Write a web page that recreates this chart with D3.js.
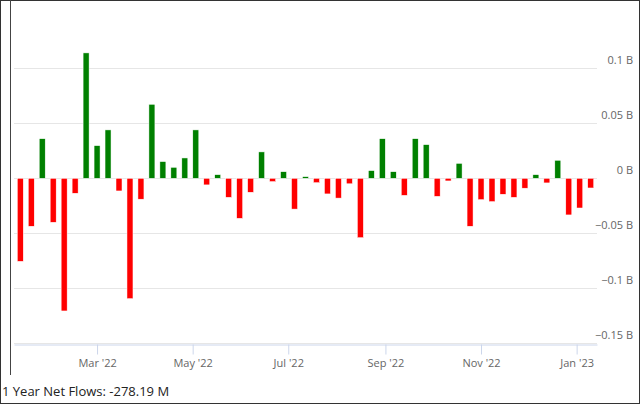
<!DOCTYPE html>
<html><head><meta charset="utf-8">
<script src="https://cdn.jsdelivr.net/npm/d3@7"></script>
<style>body{margin:0;background:#fff}text{font-family:"Open Sans",sans-serif}</style>
</head><body><svg width="640" height="404"></svg>
<script>
// weekly net flows in billions, first week starting Jan 11 2022
var startDate = new Date(2022, 0, 11);
var flows = [-0.0755,-0.0436,0.036,-0.040,-0.1206,-0.0136,0.114,0.0297,0.044,-0.0115,
  -0.1094,-0.019,0.0673,0.0152,0.010,0.0185,0.044,-0.006,0.0033,-0.0173,
  -0.0364,-0.0127,0.024,-0.003,0.006,-0.028,0.0015,-0.004,-0.0142,-0.018,
  -0.005,-0.054,0.007,0.036,0.006,-0.0155,0.036,0.0306,-0.0164,-0.0024,
  0.0136,-0.0436,-0.0194,-0.0212,-0.0145,-0.0173,-0.009,0.0033,-0.0042,0.0164,
  -0.0333,-0.027,-0.0088];
var yTicks = [-0.15,-0.1,-0.05,0,0.05,0.1];
var xTicks = [new Date(2022,2,1),new Date(2022,4,1),new Date(2022,6,1),new Date(2022,8,1),new Date(2022,10,1),new Date(2023,0,1)];
var footerLabel = "1 Year Net Flows:", footerValue = " -278.19 M";

var svg = d3.select("svg");
var data = flows.map(function(v, i) { return {date: d3.timeDay.offset(startDate, 7 * i), value: v}; });

var x = d3.scaleTime().domain([new Date(2022,0,7), new Date(2023,0,14)]).range([14, 597]);
var y = d3.scaleLinear().domain([-0.15, 0.15]).range([343.3, 13.3]);

svg.append("rect").attr("x",0.5).attr("y",0.5).attr("width",639).attr("height",403)
  .attr("fill","none").attr("stroke","#333");
svg.append("line").attr("x1",10.5).attr("x2",10.5).attr("y1",0).attr("y2",375).attr("stroke","#444");

svg.selectAll(".grid").data(yTicks).enter().append("line")
  .attr("x1",14).attr("x2",597).attr("y1",function(d){return Math.round(y(d))+0.5;})
  .attr("y2",function(d){return Math.round(y(d))+0.5;})
  .attr("stroke","#e6e6e6");

svg.selectAll(".ylab").data(yTicks).enter().append("text")
  .attr("x",633).attr("y",function(d){return y(d)-4;})
  .attr("text-anchor","end").attr("font-size",11).attr("fill","#666")
  .text(function(d){return (d<0?"\u2212":"")+Math.abs(d)+" B";});

svg.selectAll(".bar").data(data).enter().append("rect")
  .attr("x",function(d){return x(d.date)-3;}).attr("width",6)
  .attr("y",function(d){return y(Math.max(0,d.value));})
  .attr("height",function(d){return Math.abs(y(d.value)-y(0));})
  .attr("fill",function(d){return d.value>=0?"#008000":"#ff0000";})
  .attr("stroke","#fff").attr("stroke-width",0.5);

var xAxis = d3.axisBottom(x).tickValues(xTicks).tickSize(10).tickSizeOuter(0)
  .tickFormat(function(d){return d3.timeFormat("%b '%y")(d);});
var ga = svg.append("g").attr("transform","translate(0,344.5)").call(xAxis);
ga.select(".domain").attr("stroke","#ccd6eb");
ga.selectAll(".tick line").attr("stroke","#ccd6eb");
ga.selectAll("text").attr("font-size",11).attr("fill","#666").attr("font-family","Open Sans").attr("dy","0.9em");

var ft = svg.append("text").attr("x",2).attr("y",396).attr("font-size",13).attr("fill","#222");
ft.append("tspan").attr("font-weight",500).text(footerLabel);
ft.append("tspan").text(footerValue);
</script></body></html>
